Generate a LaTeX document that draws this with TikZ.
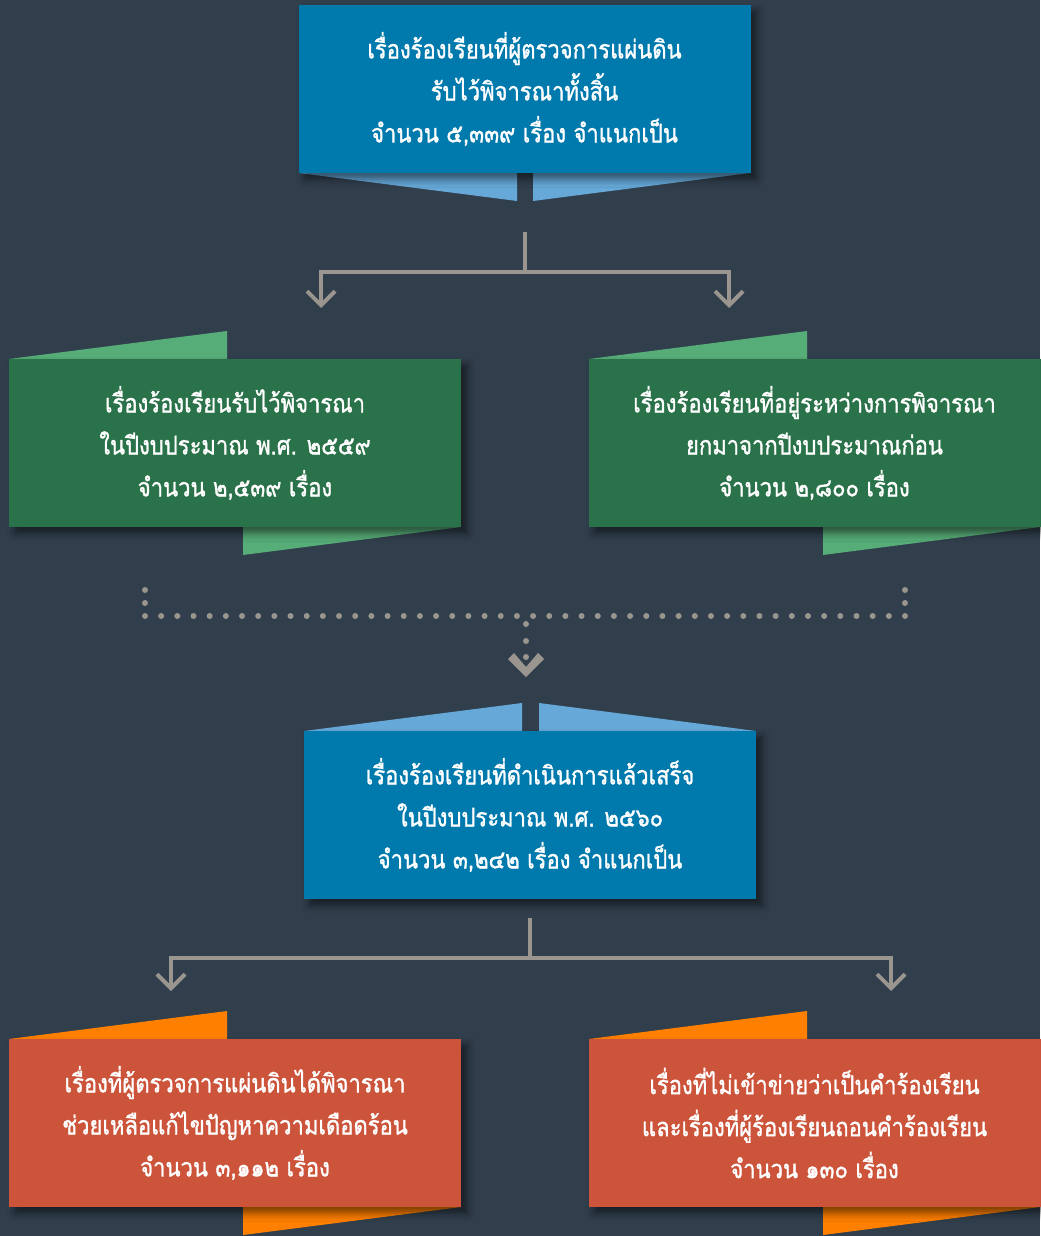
\documentclass[tikz,border=0pt]{standalone}
\usepackage{fontspec}
\newfontfamily\thaifont[Script=Thai,FakeStretch=0.86,FakeBold=1.2]{Loma}
\usetikzlibrary{arrows.meta,shadows.blur}

\definecolor{bgslate}{HTML}{313F4D}
\definecolor{boxblue}{HTML}{0079AD}
\definecolor{flapblue}{HTML}{66A9D9}
\definecolor{boxgreen}{HTML}{2A7249}
\definecolor{flapgreen}{HTML}{56AD77}
\definecolor{boxred}{HTML}{CB543A}
\definecolor{flaporange}{HTML}{FF8000}
\definecolor{conngray}{HTML}{9A958F}

\tikzset{
	panel/.style={minimum width=226pt, minimum height=84pt, inner sep=0pt, align=center, text=white,
		font={\thaifont\fontsize{12.8pt}{21pt}\selectfont},
		blur shadow={shadow xshift=3pt, shadow yshift=-3pt, shadow blur radius=4pt, shadow opacity=55}},
	bluepanel/.style={panel, fill=boxblue},
	greenpanel/.style={panel, fill=boxgreen},
	redpanel/.style={panel, fill=boxred},
	conn/.style={draw=conngray, line width=2pt, line join=miter},
	tipped/.style={-{Straight Barb[length=7pt, width=14pt]}}
}

\begin{document}
\begin{tikzpicture}[x=0.5pt, y=-0.5pt]
	\fill[bgslate] (0,0) rectangle (1040,1236);
	\useasboundingbox (0,0) rectangle (1040,1236);

	\fill[flapblue] (299,173) -- (517,173) -- (517,201) -- cycle;
	\fill[flapblue] (533,173) -- (750,173) -- (533,201) -- cycle;
	\node[bluepanel] (total) at (524.5,89) {เรื่องร้องเรียนที่ผู้ตรวจการแผ่นดิน\\รับไว้พิจารณาทั้งสิ้น\\จำนวน ๕,๓๓๙ เรื่อง จำแนกเป็น};

	\fill[flapgreen] (9,359) -- (227,331) -- (227,359) -- cycle;
	\fill[flapgreen] (243,527) -- (461,527) -- (243,555) -- cycle;
	\node[greenpanel] (newcase) at (235,443) {เรื่องร้องเรียนรับไว้พิจารณา\\ในปีงบประมาณ พ.ศ. ๒๕๕๙\\จำนวน ๒,๕๓๙ เรื่อง};

	\fill[flapgreen] (589,359) -- (807,331) -- (807,359) -- cycle;
	\fill[flapgreen] (823,527) -- (1040,527) -- (823,555) -- cycle;
	\node[greenpanel] (carried) at (814.5,443) {เรื่องร้องเรียนที่อยู่ระหว่างการพิจารณา\\ยกมาจากปีงบประมาณก่อน\\จำนวน ๒,๘๐๐ เรื่อง};

	\fill[flapblue] (304,731) -- (522,703) -- (522,731) -- cycle;
	\fill[flapblue] (539,703) -- (756,731) -- (539,731) -- cycle;
	\node[bluepanel] (done) at (530,815) {เรื่องร้องเรียนที่ดำเนินการแล้วเสร็จ\\ในปีงบประมาณ พ.ศ. ๒๕๖๐\\จำนวน ๓,๒๔๒ เรื่อง จำแนกเป็น};

	\fill[flaporange] (9,1039) -- (227,1011) -- (227,1039) -- cycle;
	\fill[flaporange] (243,1207) -- (461,1207) -- (243,1235) -- cycle;
	\node[redpanel] (helped) at (235,1123) {เรื่องที่ผู้ตรวจการแผ่นดินได้พิจารณา\\ช่วยเหลือแก้ไขปัญหาความเดือดร้อน\\จำนวน ๓,๑๑๒ เรื่อง};

	\fill[flaporange] (589,1039) -- (807,1011) -- (807,1039) -- cycle;
	\fill[flaporange] (823,1207) -- (1040,1207) -- (823,1235) -- cycle;
	\node[redpanel] (dropped) at (814.5,1123) {เรื่องที่ไม่เข้าข่ายว่าเป็นคำร้องเรียน\\และเรื่องที่ผู้ร้องเรียนถอนคำร้องเรียน\\จำนวน ๑๓๐ เรื่อง};

	\coordinate (topstem) at (525,232);
	\coordinate (topsplit) at (525,272);
	\coordinate (toleft) at (321,308);
	\coordinate (toright) at (729,308);
	\draw[conn] (topstem) -- (topsplit);
	\draw[conn,tipped] (topsplit) -| (toleft);
	\draw[conn,tipped] (topsplit) -| (toright);

	\foreach \i in {0,...,47}
		\fill[conngray] (145+\i*16.17,616) circle (1.5pt);
	\foreach \y in {590,603}{
		\fill[conngray] (145,\y) circle (1.5pt);
		\fill[conngray] (905,\y) circle (1.5pt);
	}
	\foreach \y in {624,641,657}
		\fill[conngray] (526,\y) circle (1.5pt);
	\fill[conngray] (508,659) -- (514,653) -- (526,667) -- (538,653) -- (544,659) -- (526,677) -- cycle;

	\coordinate (midstem) at (530,918);
	\coordinate (midsplit) at (530,958);
	\coordinate (bleft) at (171,991);
	\coordinate (bright) at (891,991);
	\draw[conn] (midstem) -- (midsplit);
	\draw[conn,tipped] (midsplit) -| (bleft);
	\draw[conn,tipped] (midsplit) -| (bright);
\end{tikzpicture}
\end{document}
